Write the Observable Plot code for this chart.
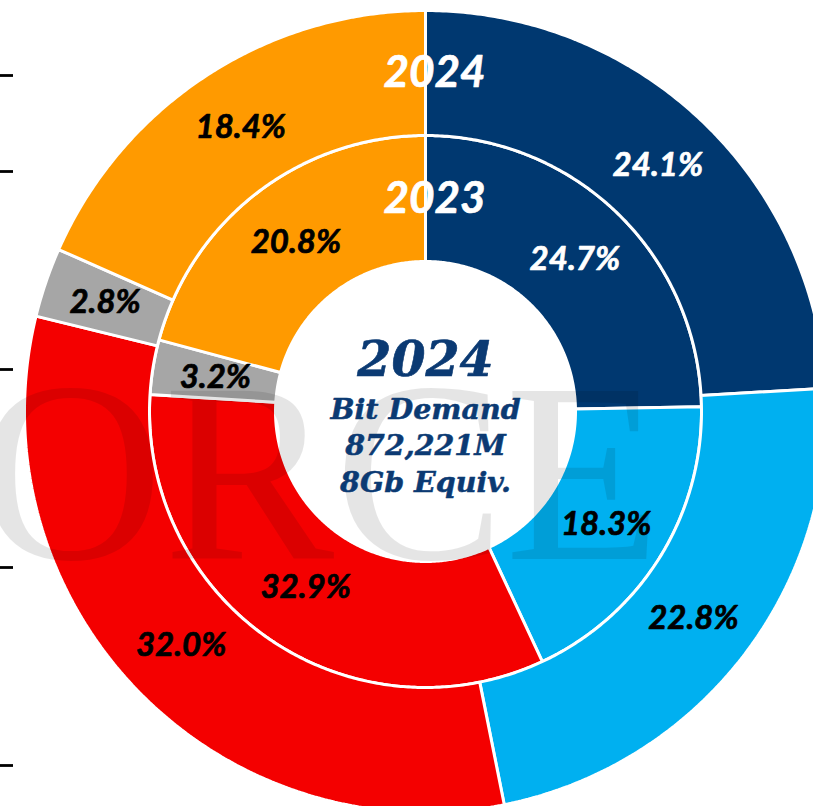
<!DOCTYPE html>
<html><head><meta charset="utf-8">
<script src="https://cdn.jsdelivr.net/npm/d3@7"></script>
<script src="https://cdn.jsdelivr.net/npm/@observablehq/plot@0.6"></script>
<style>html,body{margin:0;padding:0;background:#fff;overflow:hidden}</style>
</head><body><div id="chart"></div>
<script>
// ---- data ----
const segments = ["Segment 1", "Segment 2", "Segment 3", "Segment 4", "Segment 5"];
const values2024 = [24.1, 22.8, 32.0, 2.8, 18.4];
const values2023 = [24.7, 18.3, 32.9, 3.2, 20.8];
const ringNames = ["2023", "2024"];
const centerTitle = "2024";
const centerLines = ["Bit Demand", "872,221M", "8Gb Equiv."];
const watermarkText = "ORCE";
const axisTicks = [336, 240, 42, -156, -354];

// ---- styles ----
const segmentColors = ["#003870", "#00B0F0", "#F40000", "#A6A6A6", "#FF9A00"];
const labelColors = ["#ffffff", "#000000", "#000000", "#000000", "#000000"];
const navyText = "#0B3A73";

// ring geometry (pixels in data units; 1 unit = 1px)
const HOLE = 150, MIDR = 276, OUTR = 401;
const rings = [
  {name: ringNames[0], values: values2023, r0: HOLE, r1: MIDR},
  {name: ringNames[1], values: values2024, r0: MIDR, r1: OUTR}
];

const polys = [];
const labels = [];
const ringLabels = [];
rings.forEach((ring) => {
  const total = d3.sum(ring.values);
  let cum = 0;
  ring.values.forEach((v, i) => {
    const a0 = cum / total * 2 * Math.PI;
    cum += v;
    const a1 = cum / total * 2 * Math.PI;
    const id = ring.name + "-" + segments[i];
    const n = Math.max(2, Math.ceil((a1 - a0) / (Math.PI / 360)));
    const pts = [];
    for (let k = 0; k <= n; k++) { const a = a0 + (a1 - a0) * k / n; pts.push([ring.r1 * Math.sin(a), ring.r1 * Math.cos(a)]); }
    for (let k = n; k >= 0; k--) { const a = a0 + (a1 - a0) * k / n; pts.push([ring.r0 * Math.sin(a), ring.r0 * Math.cos(a)]); }
    pts.push(pts[0]);
    pts.forEach(([x, y]) => polys.push({id, x, y, fill: segmentColors[i]}));
    const am = (a0 + a1) / 2, rm = (ring.r0 + ring.r1) / 2;
    labels.push({x: rm * Math.sin(am), y: rm * Math.cos(am), text: v.toFixed(1) + "%", color: labelColors[i]});
  });
  ringLabels.push({x: 0, y: (ring.r0 + ring.r1) / 2, text: ring.name});
});

const plot = Plot.plot({
  width: 813, height: 806, margin: 0,
  x: {domain: [-425, 388], axis: null},
  y: {domain: [-395, 411], axis: null},
  color: {type: "identity"},
  style: {background: "#ffffff", overflow: "hidden"},
  marks: [
    Plot.line(polys, {x: "x", y: "y", z: "id", fill: "fill", stroke: "#ffffff", strokeWidth: 3, strokeLinejoin: "miter", curve: "linear"}),
    Plot.text([watermarkText], {frameAnchor: "left", text: d => d, fontFamily: "Liberation Serif", fontSize: 256, fill: "#000", fillOpacity: 0.1, textAnchor: "start", lineAnchor: "bottom", dx: -22, dy: 155}),
    Plot.axisY(axisTicks, {anchor: "left", tickSize: 13, strokeWidth: 2.8, dx: 13, tickFormat: () => "", label: null}),
    Plot.text(labels, {x: "x", y: "y", text: "text", fill: "color", stroke: "color", strokeWidth: 0.7, fontFamily: "Lato", fontWeight: "bold", fontStyle: "italic", fontSize: 33, textAnchor: "middle", lineAnchor: "middle"}),
    Plot.text(ringLabels, {x: "x", y: "y", text: "text", fill: "#ffffff", stroke: "#ffffff", strokeWidth: 0.7, fontFamily: "Lato", fontWeight: "bold", fontStyle: "italic", fontSize: 44, textAnchor: "middle", lineAnchor: "middle", dx: 9}),
    Plot.text([{x: 0, y: 0, text: centerTitle}], {x: "x", y: "y", text: "text", fill: navyText, stroke: navyText, strokeWidth: 0.6, fontFamily: "DejaVu Serif", fontWeight: "bold", fontStyle: "italic", fontSize: 49, textAnchor: "middle", lineAnchor: "bottom", dy: -36}),
    Plot.text([{x: 0, y: 0, text: centerLines.join("\n")}], {x: "x", y: "y", text: "text", fill: navyText, stroke: navyText, strokeWidth: 0.5, fontFamily: "DejaVu Serif", fontWeight: "bold", fontStyle: "italic", fontSize: 28.5, lineHeight: 1.27, textAnchor: "middle", lineAnchor: "top", dy: -18})
  ]
});
document.getElementById("chart").appendChild(plot);
</script>
</body></html>
